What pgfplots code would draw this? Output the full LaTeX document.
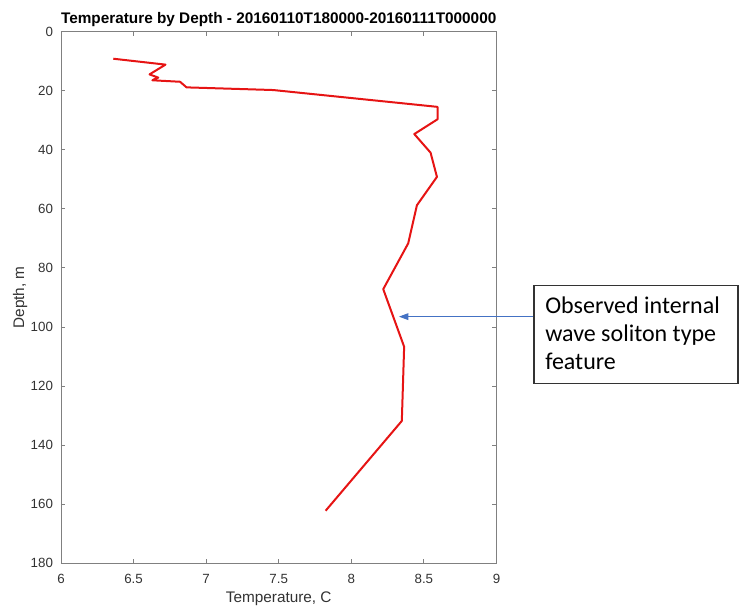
\documentclass[border=0pt]{standalone}
\usepackage{fontspec}
\setmainfont{Liberation Sans}
\newfontfamily\calib{Carlito}
\usepackage{pgfplots}
\pgfplotsset{compat=1.18}
\usetikzlibrary{arrows.meta}
\definecolor{axgray}{RGB}{128,128,128}
\definecolor{txtgray}{RGB}{50,50,50}
\definecolor{lred}{RGB}{230,20,20}
\definecolor{arrblue}{RGB}{68,114,196}
\begin{document}
\begin{tikzpicture}
\useasboundingbox (-45.75pt,-34.3pt) rectangle (508.5pt,422.5pt);
\begin{axis}[
  scale only axis,
  width=326.6pt, height=398.85pt,
  xmin=6, xmax=9, ymin=0, ymax=180,
  y dir=reverse,
  xtick={6,6.5,7,7.5,8,8.5,9},
  xticklabels={6,6.5,7,7.5,8,8.5,9},
  ytick={0,20,40,60,80,100,120,140,160,180},
  tick pos=both, tick align=inside,
  major tick length=3pt,
  axis line style={axgray, line width=0.6pt},
  tick style={axgray, line width=0.6pt},
  /pgf/number format/assume math mode=true,
  tick label style={font=\fontsize{10}{12}\selectfont, text=txtgray},
  xticklabel style={yshift=-4.5pt},
  yticklabel style={xshift=-2.5pt},
  title={Temperature by Depth - 20160110T180000-20160111T000000},
  title style={font=\bfseries\fontsize{11.5}{13}\selectfont, at={(axis description cs:0.5,1.0235)}, anchor=center, yshift=-6pt, inner sep=0pt},
  xlabel={Temperature, C},
  xlabel style={font=\fontsize{11.5}{13}\selectfont, text=txtgray, at={(axis description cs:0.5,-0.0671)}, anchor=center, inner sep=0pt},
  ylabel={Depth, m},
  ylabel style={font=\fontsize{11.5}{13}\selectfont, text=txtgray, at={(axis description cs:-0.094,0.5)}, anchor=center, inner sep=0pt},
  clip=false,
]
\addplot[lred, line width=1.5pt, line join=round] coordinates {
 (6.360,9.2) (6.720,11.2) (6.61,14.5) (6.67,15.6) (6.64,16.2) (6.63,16.5)
 (6.82,17.0) (6.865,18.9) (7.462,19.8) (8.594,25.5) (8.594,29.7) (8.434,34.7)
 (8.546,41.0) (8.59,49.2) (8.452,58.8) (8.392,71.7) (8.22,87.2) (8.364,106.7)
 (8.348,131.8) (7.823,162.2)
};
\draw[arrblue, line width=0.7pt, -{Triangle[length=7pt,width=5pt]}] (axis cs:9.2576,96.5) -- (axis cs:8.328,96.5);
\end{axis}
\draw[black!80, line width=0.8pt] (354.75pt,135pt) rectangle (507.75pt,208.7pt);
\node[anchor=base west, inner sep=0pt, font=\calib\fontsize{18}{21}\selectfont] at (363pt,187pt) {Observed internal};
\node[anchor=base west, inner sep=0pt, font=\calib\fontsize{18}{21}\selectfont] at (363pt,166pt) {wave soliton type};
\node[anchor=base west, inner sep=0pt, font=\calib\fontsize{18}{21}\selectfont] at (363pt,145pt) {feature};
\end{tikzpicture}
\end{document}
